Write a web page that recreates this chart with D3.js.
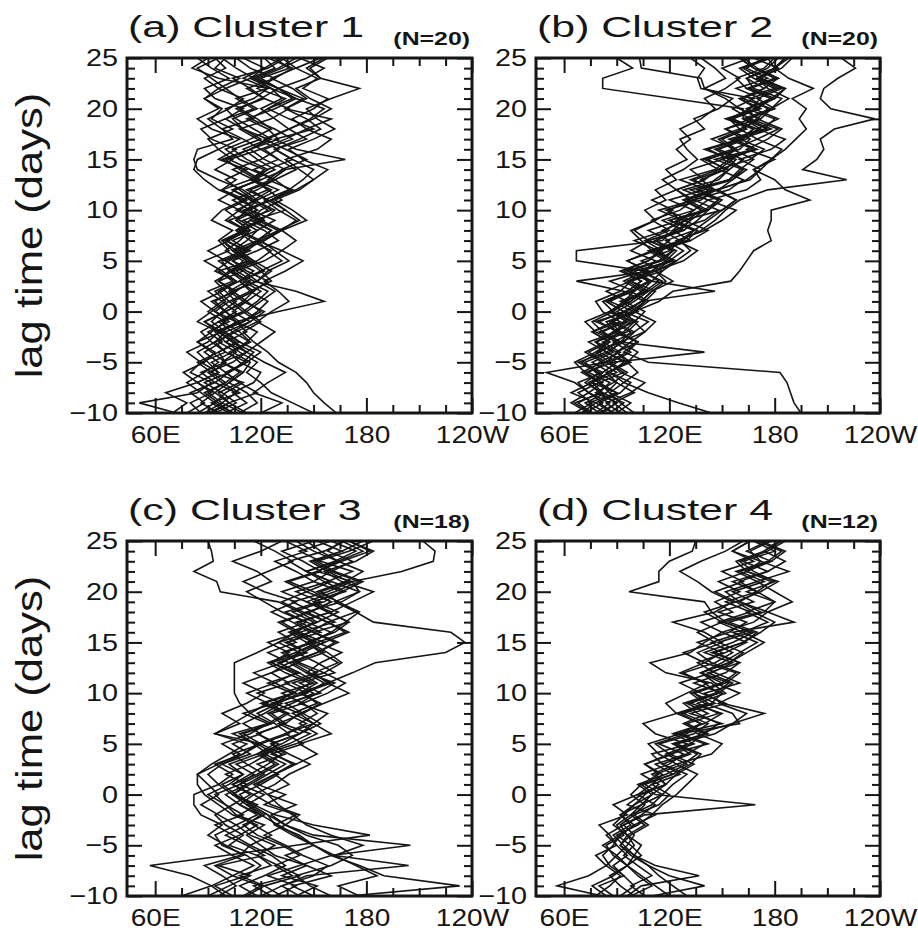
<!DOCTYPE html>
<html><head><meta charset="utf-8">
<script src="https://cdn.jsdelivr.net/npm/d3@7/dist/d3.min.js"></script>
<style>body{margin:0;background:#fff}svg{display:block}</style>
</head><body>
<script>
// ---------- data ----------
const lags = [-10,-9,-8,-7,-6,-5,-4,-3,-2,-1,0,1,2,3,4,5,6,7,8,9,10,11,12,13,14,15,16,17,18,19,20,21,22,23,24,25];
const yTickLabels = [-10,-5,0,5,10,15,20,25];
const xTickValues = [60,120,180,240];
const xTickLabels = ["60E","120E","180","120W"];
const panelTitles = ["(a) Cluster 1","(b) Cluster 2","(c) Cluster 3","(d) Cluster 4"];
const panelCounts = ["(N=20)","(N=20)","(N=18)","(N=12)"];
const yAxisTitle = "lag time (days)";

// longitude of each event track at each lag (one row per event)
const cluster1 = [
[72,51,84,92,80,86,78,90,96,84,92,100,94,106,98,88,102,96,104,92,98,110,96,88,82,84,96,90,104,92,98,88,96,108,94,100],
[104,96,88,100,108,98,112,104,96,110,118,124,114,126,120,132,124,118,130,142,134,126,140,150,142,134,152,160,146,138,150,158,144,152,140,154],
[110,98,106,94,102,112,100,94,106,118,110,102,114,108,120,112,104,118,126,114,120,132,124,116,128,118,110,124,136,128,120,132,126,114,128,122],
[90,102,96,108,100,92,104,114,108,98,112,120,128,118,124,136,128,120,132,140,130,122,136,144,150,138,128,142,154,146,134,146,138,126,140,132],
[86,80,92,84,96,90,84,94,100,92,98,106,100,94,104,110,100,108,114,106,112,118,110,96,84,82,84,104,98,90,102,110,96,88,100,94],
[120,132,116,124,134,122,112,120,128,118,126,136,130,122,134,144,132,140,132,146,138,128,142,150,158,144,136,150,162,152,146,160,176,154,148,158],
[104,94,100,110,92,100,96,108,98,88,100,94,104,96,110,100,90,102,112,100,108,96,106,118,108,100,114,124,110,104,118,108,100,114,122,110],
[70,78,66,84,76,88,94,84,92,100,90,98,106,96,102,112,104,98,110,120,108,116,126,114,122,108,100,114,126,118,108,120,130,116,106,98],
[150,138,126,120,112,118,108,100,112,106,130,156,140,116,106,122,132,118,126,116,134,124,114,128,140,130,120,134,146,160,134,144,130,120,136,128],
[94,106,98,88,102,110,116,104,96,110,120,112,104,118,126,116,106,122,130,118,110,126,138,124,132,146,134,122,136,148,156,140,130,146,156,142],
[100,112,104,116,120,108,102,114,104,96,110,118,124,112,104,118,126,114,106,120,128,116,108,100,112,96,106,92,86,100,110,94,88,102,92,84],
[78,88,80,94,86,100,92,84,98,106,94,102,96,108,116,104,112,100,114,106,118,110,124,116,104,120,130,118,108,126,136,122,112,128,138,124],
[108,118,112,102,110,98,106,96,104,114,104,112,120,110,102,116,108,122,132,120,112,126,136,128,116,130,122,138,128,114,124,138,130,118,132,144],
[96,86,94,102,110,114,104,112,118,106,100,112,104,118,110,100,114,104,118,108,100,112,98,106,94,104,96,108,92,84,96,88,100,92,84,96],
[163,156,150,146,140,130,124,116,110,120,112,104,116,108,122,114,104,112,118,128,114,124,112,126,134,122,114,130,124,112,128,140,126,116,130,140],
[88,98,90,100,92,84,96,106,96,88,100,110,102,112,104,96,110,118,106,114,124,114,104,120,110,98,114,126,116,106,100,116,124,110,122,132],
[112,102,118,108,100,112,120,108,100,114,122,110,116,124,112,104,118,130,122,110,126,116,104,120,134,168,140,128,150,136,124,134,118,128,114,106],
[84,94,86,78,88,96,88,98,90,102,94,86,98,106,94,102,112,100,110,120,106,118,130,116,124,138,128,146,136,150,160,148,140,154,146,156],
[102,92,108,98,90,104,112,100,94,108,100,92,106,114,102,98,112,120,108,122,114,104,118,128,114,102,120,110,98,116,106,122,114,104,124,134],
[92,102,94,84,96,86,100,92,86,96,106,98,90,104,96,114,106,98,112,102,118,108,98,114,124,112,104,120,110,100,116,106,124,96,81,90]
];
const cluster2 = [
[75,66,82,72,80,68,84,74,90,80,94,84,96,104,92,108,114,100,118,126,120,132,124,140,132,150,158,144,160,154,166,172,158,176,164,174],
[88,78,90,76,86,94,84,78,94,100,86,96,104,110,96,116,122,108,126,132,118,138,146,132,148,156,140,160,168,154,170,178,164,180,168,160],
[70,78,64,76,82,70,80,90,78,72,86,94,100,86,106,112,98,108,100,112,106,118,112,124,118,130,124,132,126,138,146,140,152,160,150,166],
[92,84,98,106,92,86,98,88,100,108,94,104,110,122,112,128,136,124,140,150,158,142,164,172,168,180,164,176,184,170,164,178,186,170,180,188],
[78,86,74,68,82,90,80,92,82,76,88,96,84,98,108,96,110,104,98,112,122,110,124,116,128,136,130,126,140,134,148,156,140,152,146,138],
[195,191,189,187,183,108,94,102,88,100,106,94,108,116,104,122,114,132,122,140,148,134,154,162,148,166,174,160,178,164,180,170,184,172,162,178],
[144,125,108,94,86,96,84,94,100,88,98,106,112,98,116,124,110,130,136,120,142,150,136,156,164,150,170,156,176,162,178,184,168,164,180,186],
[72,82,74,66,50,84,74,86,76,92,82,78,92,98,108,96,112,120,108,126,134,120,140,146,154,140,160,166,152,172,178,162,174,182,168,160],
[84,74,90,80,72,88,140,92,82,94,100,86,98,108,96,114,122,108,128,116,134,142,128,148,154,162,148,164,170,156,172,160,180,168,160,176],
[66,76,68,80,70,82,72,84,92,78,96,104,146,110,100,122,112,132,142,128,150,158,146,166,172,160,178,186,170,182,168,180,186,172,182,168],
[80,72,84,90,78,72,86,92,80,96,86,98,104,94,106,67,67,116,122,128,114,134,142,126,146,154,142,162,168,152,170,178,164,158,174,180],
[90,98,86,80,94,84,96,102,90,84,100,106,94,67,110,118,108,128,134,120,140,148,132,154,162,146,168,154,174,180,164,180,166,182,170,162],
[88,80,92,98,86,96,102,92,106,112,100,114,122,155,160,164,168,178,176,178,178,200,186,180,168,178,184,170,182,166,178,188,176,170,184,190],
[100,92,86,94,102,96,90,98,106,100,94,104,110,118,112,124,132,126,138,146,152,160,176,221,196,204,208,206,214,237,212,206,208,216,226,218],
[82,90,78,88,96,86,78,92,98,86,102,92,106,114,104,120,128,118,134,142,150,158,148,164,172,178,186,192,198,194,198,190,202,188,180,176],
[76,68,80,86,74,84,90,78,88,96,86,98,106,96,110,118,124,112,128,136,142,130,148,156,162,154,168,158,172,162,162,122,82,82,99,90],
[86,94,82,76,90,80,92,82,96,102,90,100,108,98,112,120,110,126,134,124,142,148,136,154,160,168,156,170,160,172,160,152,140,138,104,103],
[74,64,74,82,72,66,78,86,76,88,94,84,100,108,98,114,122,112,124,132,140,128,146,138,152,158,146,162,152,166,156,168,138,136,140,132],
[96,88,100,90,84,98,90,102,92,86,100,108,98,110,116,104,120,126,116,130,138,128,144,134,152,142,158,150,164,156,170,160,174,164,176,182],
[80,90,80,74,86,76,88,78,90,98,88,82,96,104,94,108,116,106,120,110,126,134,124,140,148,138,156,148,162,170,176,166,182,170,180,186]
];
const cluster3 = [
[140,152,132,146,128,120,112,122,106,100,94,108,116,106,122,130,118,134,142,128,146,134,152,140,156,146,136,152,164,150,168,156,146,162,174,160],
[170,233,190,176,160,150,138,128,124,114,108,120,130,118,134,126,142,150,138,152,144,160,148,138,152,164,150,170,158,146,162,176,160,150,166,178],
[100,92,80,57,100,140,182,150,128,116,104,112,100,114,124,116,108,126,136,122,140,128,116,132,142,130,148,158,144,132,146,160,146,136,156,168],
[128,140,124,142,160,205,150,134,124,114,106,98,110,102,118,128,118,134,126,144,132,150,138,126,144,156,142,162,150,138,158,172,152,166,182,170],
[120,132,146,204,162,150,140,130,120,112,122,108,120,130,120,136,148,132,124,138,150,138,156,142,132,148,160,146,134,154,140,158,172,154,142,160],
[112,122,108,126,118,102,110,100,94,104,114,104,118,128,118,132,142,130,144,154,142,158,172,185,225,236,228,184,174,164,154,170,158,148,166,152],
[150,138,160,146,134,150,142,128,140,122,134,118,128,140,126,144,134,150,158,142,152,162,146,154,166,152,168,158,174,162,176,172,200,218,219,212],
[96,106,98,88,108,114,104,94,110,100,90,102,110,98,114,104,120,110,122,132,118,136,126,142,134,150,138,152,142,130,97,95,82,93,92,90],
[132,122,142,130,118,128,114,106,118,108,100,112,122,112,104,120,110,126,114,108,105,105,105,105,118,130,140,150,138,156,166,150,160,172,158,166],
[110,120,104,94,110,100,90,98,86,82,82,96,104,94,110,118,104,124,134,120,138,148,134,124,140,152,140,130,148,160,146,134,152,164,150,140],
[75,92,104,116,104,94,108,118,104,96,88,84,84,96,108,98,114,124,110,128,138,124,142,130,146,134,154,142,160,146,132,150,140,128,146,134],
[160,148,140,160,172,164,146,134,126,140,124,116,128,138,128,118,134,146,134,126,146,156,146,136,152,162,150,140,160,172,184,166,156,174,184,170],
[142,132,150,158,144,134,122,134,142,126,116,128,136,148,136,126,142,154,144,134,154,142,162,152,140,156,170,158,146,166,176,160,146,164,178,166],
[118,108,122,134,126,114,126,116,108,118,104,96,90,98,110,120,94,104,114,124,112,128,140,126,136,124,142,132,148,160,150,136,154,144,132,150],
[104,94,112,120,112,98,94,106,96,86,96,90,84,92,102,112,94,108,98,112,122,110,126,136,124,140,130,146,132,122,112,126,118,104,120,132],
[176,164,186,174,162,178,160,146,138,130,124,136,128,140,152,142,160,150,142,156,170,158,150,164,154,146,162,170,158,150,166,178,162,152,170,184],
[126,116,138,128,142,132,118,110,122,112,104,114,124,134,122,140,152,142,152,144,158,168,156,166,158,148,160,168,176,164,152,168,178,164,154,146],
[90,102,114,96,122,112,100,112,120,108,116,104,114,124,132,120,136,128,118,130,142,152,142,130,146,136,148,138,126,140,122,110,124,138,128,116]
];
const cluster4 = [
[82,56,74,84,78,90,86,80,96,88,102,110,116,106,122,130,112,105,124,118,130,142,126,140,128,146,136,150,140,158,146,162,150,168,156,166],
[96,104,137,112,100,94,88,98,92,100,106,114,104,120,128,114,134,142,128,146,134,150,158,140,150,136,154,164,148,168,156,174,160,178,164,176],
[110,140,120,108,98,92,96,88,94,100,110,102,118,130,118,134,122,140,150,132,148,140,128,146,156,144,162,148,166,152,170,156,176,162,180,168],
[88,80,94,86,82,88,92,100,112,96,104,118,110,124,114,108,126,138,126,144,150,134,152,160,146,162,172,180,168,158,172,182,164,178,186,172],
[78,86,92,84,90,96,100,94,106,169,112,104,122,112,130,140,124,150,132,152,138,126,144,156,140,156,168,150,172,160,152,170,158,176,184,170],
[100,92,86,96,88,84,94,90,98,104,116,122,130,116,132,122,142,130,148,136,152,144,118,109,132,140,150,138,156,146,160,148,164,172,156,166],
[92,100,94,88,96,90,84,94,104,112,102,118,124,134,120,142,126,160,156,140,132,150,138,154,162,148,166,152,144,140,97,114,114,120,133,135],
[106,98,110,102,94,100,96,106,98,110,116,106,122,132,138,124,146,156,174,150,140,160,146,136,152,164,150,168,176,160,170,178,164,158,174,182],
[120,112,104,96,100,92,98,108,100,114,120,110,126,116,110,132,140,128,142,130,148,156,142,160,144,162,170,154,174,180,164,180,168,160,176,186],
[84,76,88,96,90,82,92,100,92,104,110,118,112,128,136,122,140,148,136,128,146,154,138,150,160,170,156,191,176,190,180,170,188,172,166,178],
[98,110,102,96,104,98,90,102,110,116,124,130,136,124,144,150,136,156,164,148,160,146,138,154,164,174,162,176,164,180,170,160,176,186,174,184],
[130,122,114,108,100,104,96,92,100,106,98,104,114,106,120,112,130,138,124,142,134,152,160,144,136,150,140,122,146,156,144,136,126,138,152,162]
];
const clusters = [cluster1, cluster2, cluster3, cluster4];

// ---------- layout ----------
const W = 918, H = 933;
const FONT = "'Liberation Sans', Arial, sans-serif";
const INK = "#151515";
const cols = [[127, 472], [536, 880]];
const rows = [[58, 413], [541, 896]];
const lonDomain = [44, 240];
const lagDomain = [-10, 25];

const svg = d3.select("body").append("svg").attr("width", W).attr("height", H)
  .style("font-family", FONT);

function stretch(sel, k) {
  sel.each(function () {
    const L = this.getComputedTextLength();
    d3.select(this).attr("textLength", L * k).attr("lengthAdjust", "spacingAndGlyphs");
  });
}
const fmtLag = d => d < 0 ? "\u2212" + (-d) : String(d);
const minorLon = d3.range(60, 240, 15).filter(v => !xTickValues.includes(v));
const minorLag = d3.range(-9, 25, 1).filter(v => !yTickLabels.includes(v));

clusters.forEach((data, p) => {
  const [x0, x1] = cols[p % 2];
  const [y0, y1] = rows[Math.floor(p / 2)];
  const x = d3.scaleLinear().domain(lonDomain).range([x0, x1]);
  const y = d3.scaleLinear().domain(lagDomain).range([y1, y0]);
  const g = svg.append("g");

  const clipId = "clip" + p;
  g.append("clipPath").attr("id", clipId).append("rect")
    .attr("x", x0).attr("y", y0).attr("width", x1 - x0).attr("height", y1 - y0);

  const line = d3.line().x(d => x(d)).y((d, i) => y(lags[i]));
  g.append("g").attr("clip-path", `url(#${clipId})`)
    .selectAll("path").data(data).join("path")
    .attr("d", line).attr("fill", "none").attr("stroke", INK)
    .attr("stroke-width", 1.6).attr("stroke-linejoin", "miter");

  // axes: major ticks (15px, inward) and minor ticks (8px, inward)
  const mk = (axisFn, scale, vals, size, fmt, tx, ty, pad) => {
    const a = axisFn(scale).tickValues(vals).tickSizeInner(-size).tickSizeOuter(0).tickPadding(pad || 3);
    a.tickFormat(fmt || (() => ""));
    const ag = g.append("g").attr("transform", `translate(${tx},${ty})`).call(a);
    ag.select(".domain").remove();
    ag.selectAll("line").attr("stroke", INK).attr("stroke-width", 2);
    return ag;
  };
  const bx = mk(d3.axisBottom, x, xTickValues, 15, (d, i) => xTickLabels[i], 0, y1, 13);
  mk(d3.axisBottom, x, minorLon, 8, null, 0, y1);
  mk(d3.axisTop, x, xTickValues, 15, null, 0, y0);
  mk(d3.axisTop, x, minorLon, 8, null, 0, y0);
  const ly = mk(d3.axisLeft, y, yTickLabels, 15, fmtLag, x0, 0, 9);
  mk(d3.axisLeft, y, minorLag, 8, null, x0, 0);
  mk(d3.axisRight, y, yTickLabels, 15, null, x1, 0);
  mk(d3.axisRight, y, minorLag, 8, null, x1, 0);

  bx.selectAll("text").attr("font-size", 24).attr("fill", INK).attr("font-family", FONT);
  ly.selectAll("text").attr("font-size", 24).attr("fill", INK).attr("font-family", FONT);
  stretch(bx.selectAll("text"), 1.17);
  stretch(ly.selectAll("text"), 1.2);

  // frame
  g.append("rect").attr("x", x0).attr("y", y0).attr("width", x1 - x0).attr("height", y1 - y0)
    .attr("fill", "none").attr("stroke", INK).attr("stroke-width", 3);

  // titles
  const tb = y0 - 21;
  const t = g.append("text").attr("x", x0 + 1).attr("y", tb)
    .attr("font-size", 30).attr("fill", INK).text(panelTitles[p]);
  stretch(t, 1.43);
  const n = g.append("text").attr("x", x1 - 2).attr("y", tb + 8).attr("text-anchor", "end")
    .attr("font-size", 18).attr("font-weight", "bold").attr("fill", INK).text(panelCounts[p]);
  stretch(n, 1.38);

  // y-axis title on left column
  if (p % 2 === 0) {
    const yt = g.append("text")
      .attr("transform", `translate(42,${(y0 + y1) / 2}) rotate(-90)`)
      .attr("text-anchor", "middle").attr("font-size", 36).attr("fill", INK).text(yAxisTitle);
    stretch(yt, 1.21);
  }
});
</script>
</body></html>
